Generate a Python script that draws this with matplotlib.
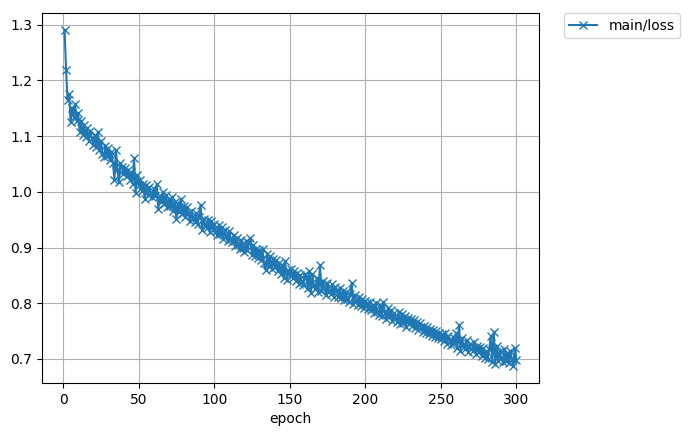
import numpy as np
import matplotlib
matplotlib.use('Agg')
import matplotlib.pyplot as plt

# loss per epoch
epochs = list(range(1, 301))
loss = [
    1.291, 1.219, 1.165, 1.175, 1.125, 1.150, 1.135, 1.158, 1.128, 1.142,
    1.108, 1.128, 1.102, 1.120, 1.098, 1.115, 1.092, 1.110, 1.096, 1.085,
    1.102, 1.080, 1.108, 1.075, 1.092, 1.068, 1.062, 1.082, 1.064, 1.078,
    1.058, 1.072, 1.052, 1.022, 1.075, 1.040, 1.018, 1.052, 1.045, 1.032,
    1.042, 1.028, 1.040, 1.022, 1.035, 1.015, 1.060, 0.998, 1.030, 1.012,
    1.022, 1.002, 1.015, 0.988, 1.012, 0.995, 1.008, 0.998, 0.990, 1.005,
    0.992, 1.014, 0.970, 0.992, 0.982, 1.000, 0.978, 0.995, 0.972, 0.988,
    0.975, 0.990, 0.966, 0.982, 0.952, 0.978, 0.964, 0.987, 0.960, 0.975,
    0.955, 0.972, 0.962, 0.948, 0.965, 0.952, 0.945, 0.962, 0.942, 0.955,
    0.976, 0.932, 0.952, 0.940, 0.935, 0.950, 0.928, 0.947, 0.932, 0.942,
    0.930, 0.922, 0.940, 0.925, 0.937, 0.915, 0.932, 0.920, 0.912, 0.930,
    0.915, 0.910, 0.923, 0.902, 0.918, 0.905, 0.898, 0.914, 0.900, 0.892,
    0.912, 0.895, 0.908, 0.917, 0.887, 0.904, 0.885, 0.898, 0.882, 0.895,
    0.878, 0.897, 0.872, 0.860, 0.888, 0.867, 0.885, 0.862, 0.880, 0.865,
    0.878, 0.857, 0.872, 0.852, 0.868, 0.846, 0.875, 0.842, 0.860, 0.850,
    0.862, 0.845, 0.858, 0.840, 0.855, 0.835, 0.850, 0.838, 0.832, 0.853,
    0.847, 0.827, 0.857, 0.818, 0.852, 0.832, 0.825, 0.845, 0.820, 0.869,
    0.822, 0.840, 0.828, 0.815, 0.837, 0.822, 0.817, 0.834, 0.812, 0.830,
    0.824, 0.812, 0.827, 0.809, 0.822, 0.805, 0.820, 0.807, 0.802, 0.817,
    0.836, 0.799, 0.814, 0.805, 0.797, 0.812, 0.795, 0.807, 0.792, 0.804,
    0.800, 0.789, 0.802, 0.787, 0.797, 0.782, 0.800, 0.785, 0.779, 0.797,
    0.777, 0.802, 0.782, 0.772, 0.792, 0.775, 0.787, 0.769, 0.782, 0.772,
    0.767, 0.784, 0.762, 0.780, 0.765, 0.777, 0.757, 0.774, 0.762, 0.772,
    0.759, 0.770, 0.755, 0.767, 0.752, 0.764, 0.757, 0.749, 0.760, 0.747,
    0.757, 0.745, 0.754, 0.742, 0.752, 0.739, 0.750, 0.737, 0.747, 0.735,
    0.744, 0.732, 0.747, 0.727, 0.742, 0.732, 0.725, 0.740, 0.729, 0.747,
    0.719, 0.761, 0.715, 0.737, 0.725, 0.717, 0.734, 0.712, 0.727, 0.717,
    0.715, 0.730, 0.709, 0.724, 0.712, 0.722, 0.705, 0.720, 0.702, 0.714,
    0.699, 0.717, 0.741, 0.695, 0.749, 0.690, 0.724, 0.697, 0.714, 0.702,
    0.695, 0.717, 0.697, 0.710, 0.692, 0.714, 0.699, 0.687, 0.719, 0.698,
]

fig = plt.figure(figsize=(6.88, 4.36), dpi=100)
ax = fig.add_axes([0.061, 0.1216, 0.7224, 0.8486])
ax.plot(epochs, loss, marker='x', label='main/loss')
ax.set_xlabel('epoch')
ax.grid()
ax.legend(bbox_to_anchor=(1.05, 1), loc='upper left', borderaxespad=0.)
fig.savefig('out.png', dpi=100)
